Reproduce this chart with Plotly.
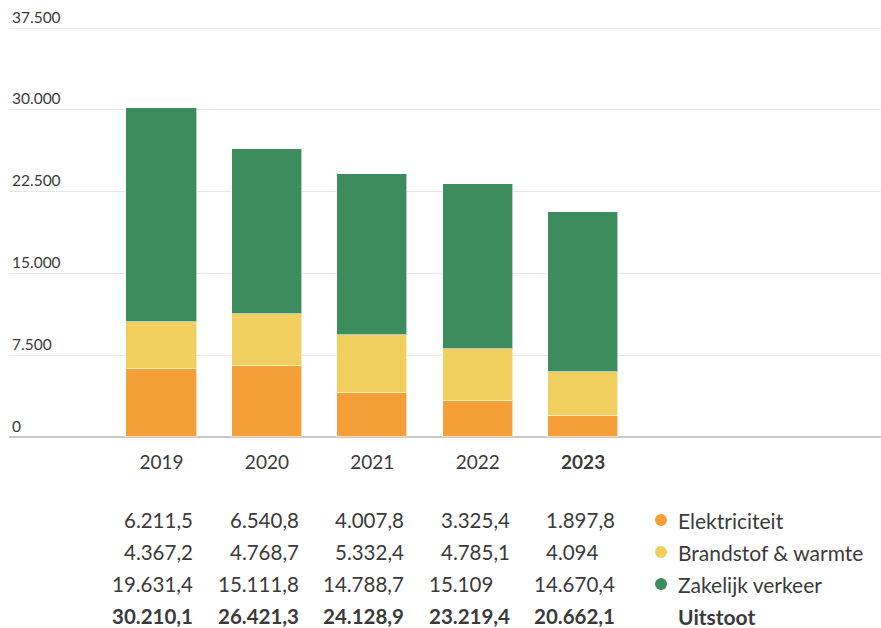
import plotly.graph_objects as go

years = ["2019", "2020", "2021", "2022", "2023"]
series_names = ["Elektriciteit", "Brandstof & warmte", "Zakelijk verkeer"]
elektriciteit = [6211.5, 6540.8, 4007.8, 3325.4, 1897.8]
brandstof = [4367.2, 4768.7, 5332.4, 4785.1, 4094.0]
zakelijk = [19631.4, 15111.8, 14788.7, 15109.0, 14670.4]
totaal = [30210.1, 26421.3, 24128.9, 23219.4, 20662.1]
total_label = "Uitstoot"
colors = ["#F59F38", "#F0CF5E", "#3D8C5E"]
y_ticks = [0, 7500, 15000, 22500, 30000, 37500]

FONT = "Lato, 'Source Sans Pro', sans-serif"
TXT = "#3a3a3a"
TABLE_SIZE = 20.5
LEGEND_SIZE = 21

W, H = 881, 628
ML, MR, MT, MB = 9, 0, 26, 191
PW = W - ML - MR
PH = H - MT - MB  # 411 px; 409 px correspond to 37500
y_top = 37500 * PH / 409

xpos = list(range(len(years)))
x_range = [-1.447, 6.826]

def px_to_paper_y(py):
    return (H - MB - py) / PH

def px_to_paper_x(px):
    return (px - ML) / PW

def fmt_nl(v):
    s = f"{v:,.1f}".replace(",", "X").replace(".", ",").replace("X", ".")
    if s.endswith(",0"):
        return s[:-2], True
    return s, False

fig = go.Figure()
for name, vals, col in zip(series_names, [elektriciteit, brandstof, zakelijk], colors):
    fig.add_trace(go.Bar(
        x=xpos, y=vals, name=name, marker_color=col,
        marker_line=dict(color="rgba(255,255,255,0.6)", width=1),
        width=0.665, showlegend=False,
    ))

annotations = []
shapes = []
rows = [elektriciteit, brandstof, zakelijk, totaal]
row_y_px = [520, 552, 584, 616]
right_off = 0.322
dec_px = (0.22 + 0.58) * TABLE_SIZE
for r, (vals, ypx) in enumerate(zip(rows, row_y_px)):
    bold = r == 3
    yp = px_to_paper_y(ypx)
    for xi, v in zip(xpos, vals):
        txt, no_dec = fmt_nl(v)
        annotations.append(dict(
            x=xi + right_off, y=yp, xref="x", yref="paper",
            text=f"<b>{txt}</b>" if bold else txt,
            xanchor="right", yanchor="middle", showarrow=False,
            xshift=-dec_px if no_dec else 0,
            font=dict(family=FONT, size=TABLE_SIZE, color=TXT)))
    label = total_label if bold else series_names[r]
    annotations.append(dict(
        x=px_to_paper_x(676), y=yp, xref="paper", yref="paper",
        text=f"<b>{label}</b>" if bold else label,
        xanchor="left", yanchor="middle", showarrow=False,
        font=dict(family=FONT, size=LEGEND_SIZE, color=TXT)))
    if not bold:
        shapes.append(dict(
            type="circle", xref="paper", yref="paper", xsizemode="pixel", ysizemode="pixel",
            xanchor=px_to_paper_x(661), yanchor=yp, x0=-6, x1=6, y0=-6, y1=6,
            fillcolor=colors[r], line=dict(width=0)))

ticktext = [f"<b>{y}</b>" if i == len(years) - 1 else y for i, y in enumerate(years)]

fig.update_layout(
    width=W, height=H,
    margin=dict(l=ML, r=MR, t=MT, b=MB),
    barmode="stack", bargap=0,
    plot_bgcolor="white", paper_bgcolor="white",
    separators=",.",
    font=dict(family=FONT, color=TXT),
    xaxis=dict(
        range=x_range, tickvals=xpos, ticktext=ticktext,
        showgrid=False, zeroline=False, showline=False,
        ticks="", ticklabelstandoff=12,
        tickfont=dict(family=FONT, size=19, color=TXT),
        fixedrange=True,
    ),
    yaxis=dict(
        range=[0, y_top], tickvals=y_ticks, tickformat=",d",
        ticklabelposition="inside top", ticklabeloverflow="allow",
        showgrid=True, gridcolor="#e6e6e6", gridwidth=1,
        zeroline=True, zerolinecolor="#c8c8c8", zerolinewidth=1.5,
        showline=False, ticks="",
        tickfont=dict(family=FONT, size=15.5, color=TXT),
        fixedrange=True,
    ),
    annotations=annotations,
    shapes=shapes,
)

fig.write_html("out.html")
